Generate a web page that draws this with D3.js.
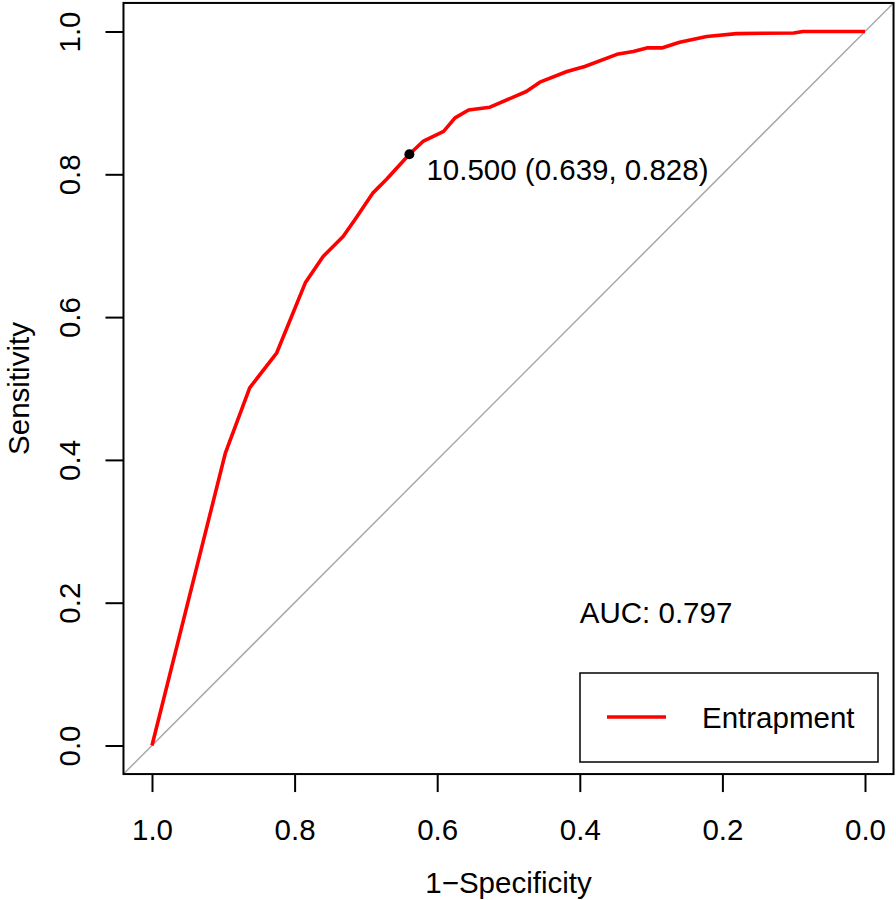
<!DOCTYPE html>
<html>
<head>
<meta charset="utf-8">
<script src="https://cdn.jsdelivr.net/npm/d3@7"></script>
<style>
  body { margin: 0; background: #fff; }
  svg text { font-family: "Liberation Sans", Arial, Helvetica, sans-serif; fill: #000; }
</style>
</head>
<body>
<div id="chart"></div>
<script>
// ROC curve data (specificity on x, reversed)
const specificity = [1.0, 0.897, 0.863, 0.825, 0.785, 0.760, 0.732, 0.715, 0.690, 0.671, 0.639,
  0.620, 0.591, 0.575, 0.556, 0.526, 0.475, 0.456, 0.418, 0.393, 0.348, 0.325, 0.306, 0.285,
  0.260, 0.222, 0.180, 0.100, 0.087, 0.044, 0.0];
const sensitivity = [0.0, 0.410, 0.501, 0.550, 0.648, 0.685, 0.713, 0.737, 0.774, 0.793, 0.828,
  0.846, 0.860, 0.879, 0.890, 0.894, 0.916, 0.929, 0.944, 0.951, 0.968, 0.972, 0.977, 0.977,
  0.985, 0.993, 0.997, 0.998, 1.0, 1.0, 1.0];
const xTicks = [1.0, 0.8, 0.6, 0.4, 0.2, 0.0];
const yTicks = [0.0, 0.2, 0.4, 0.6, 0.8, 1.0];
const threshold = { value: 10.5, spec: 0.639, sens: 0.828 };
const aucValue = 0.797;
const seriesName = 'Entrapment';

const width = 896;
const height = 900;
const fontSize = 29.5;

const svg = d3.select('#chart').append('svg')
  .attr('width', width)
  .attr('height', height);

// SCALES
const x = d3.scaleLinear().domain([1, 0]).range([152, 865]);
const y = d3.scaleLinear().domain([0, 1]).range([745.5, 31.5]);

const boxLeft = x(1.04), boxRight = x(-0.04);
const boxTop = y(1.04), boxBottom = y(-0.04);

// identity line (spans the whole box)
svg.append('line')
  .attr('x1', x(1.04)).attr('y1', y(-0.04))
  .attr('x2', x(-0.04)).attr('y2', y(1.04))
  .style('stroke', '#a9a9a9')
  .style('stroke-width', 1.5);

// ROC curve
const pts = specificity.map((s, i) => [s, sensitivity[i]]);
const line = d3.line().x(d => x(d[0])).y(d => y(d[1]));
svg.append('path')
  .datum(pts)
  .attr('d', line)
  .style('fill', 'none')
  .style('stroke', '#ff0000')
  .style('stroke-width', 3.6)
  .style('stroke-linejoin', 'round');

// best threshold point + label
svg.append('circle')
  .attr('cx', x(threshold.spec))
  .attr('cy', y(threshold.sens))
  .attr('r', 5)
  .style('fill', '#000');
svg.append('text')
  .attr('x', x(threshold.spec) + 17)
  .attr('y', y(threshold.sens) + 26)
  .style('font-size', fontSize + 'px')
  .text(`${threshold.value.toFixed(3)} (${threshold.spec.toFixed(3)}, ${threshold.sens.toFixed(3)})`);

// AUC text
svg.append('text')
  .attr('x', x(0.4))
  .attr('y', 623)
  .style('font-size', fontSize + 'px')
  .text(`AUC: ${aucValue.toFixed(3)}`);

// box
svg.append('rect')
  .attr('x', boxLeft).attr('y', boxTop)
  .attr('width', boxRight - boxLeft)
  .attr('height', boxBottom - boxTop)
  .style('fill', 'none')
  .style('stroke', '#000')
  .style('stroke-width', 2);

// AXES
const xAxis = d3.axisBottom(x).tickValues(xTicks).tickSize(18).tickFormat(d3.format('.1f'));
const gx = svg.append('g')
  .attr('transform', `translate(0, ${boxBottom})`)
  .call(xAxis);
gx.select('.domain').remove();
gx.selectAll('line').style('stroke', '#000').style('stroke-width', 2);
gx.selectAll('text')
  .attr('y', 66).attr('dy', null)
  .style('font-size', fontSize + 'px')
  .style('font-family', '"Liberation Sans", Arial, Helvetica, sans-serif');

const yAxis = d3.axisLeft(y).tickValues(yTicks).tickSize(18).tickFormat(d3.format('.1f'));
const gy = svg.append('g')
  .attr('transform', `translate(${boxLeft}, 0)`)
  .call(yAxis);
gy.select('.domain').remove();
gy.selectAll('line').style('stroke', '#000').style('stroke-width', 2);
gy.selectAll('text')
  .attr('x', null).attr('dy', null)
  .attr('transform', 'translate(-43, 0) rotate(-90)')
  .attr('text-anchor', 'middle')
  .style('font-size', fontSize + 'px')
  .style('font-family', '"Liberation Sans", Arial, Helvetica, sans-serif');

// axis titles
svg.append('text')
  .attr('x', (boxLeft + boxRight) / 2)
  .attr('y', 893)
  .attr('text-anchor', 'middle')
  .style('font-size', fontSize + 'px')
  .text('1\u2212Specificity');
svg.append('text')
  .attr('transform', `translate(29, ${(boxTop + boxBottom) / 2}) rotate(-90)`)
  .attr('text-anchor', 'middle')
  .style('font-size', fontSize + 'px')
  .text('Sensitivity');

// LEGEND
const legend = svg.append('g');
legend.append('rect')
  .attr('x', 580).attr('y', 673)
  .attr('width', 298).attr('height', 89)
  .style('fill', '#fff')
  .style('stroke', '#000')
  .style('stroke-width', 1.5);
legend.append('line')
  .attr('x1', 607).attr('x2', 666)
  .attr('y1', 717).attr('y2', 717)
  .style('stroke', '#ff0000')
  .style('stroke-width', 3.6);
legend.append('text')
  .attr('x', 702).attr('y', 728)
  .style('font-size', fontSize + 'px')
  .text(seriesName);
</script>
</body>
</html>
